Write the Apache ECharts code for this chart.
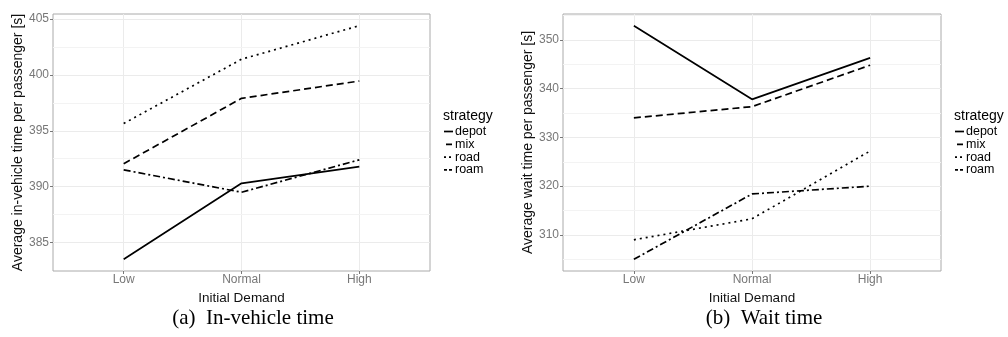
<!DOCTYPE html>
<html>
<head>
<meta charset="utf-8">
<script src="https://cdn.jsdelivr.net/npm/echarts@6/dist/echarts.min.js"></script>
<style>
html,body{margin:0;padding:0;background:#fff;}
#chart{width:1008px;height:337px;}
</style>
</head>
<body>
<div id="chart"></div>
<script>
// ---- data ----
const categories = ['Low', 'Normal', 'High'];
const strategies = ['depot', 'mix', 'road', 'roam'];

// (a) In-vehicle time
const ivtDepot = [383.5, 390.3, 391.8];
const ivtMix   = [392.05, 397.9, 399.45];
const ivtRoad  = [395.65, 401.4, 404.4];
const ivtRoam  = [391.5, 389.5, 392.4];
const ivtTicks = [385, 390, 395, 400, 405];
const ivtMinor = [387.5, 392.5, 397.5, 402.5];

// (b) Wait time
const waitDepot = [352.9, 337.8, 346.3];
const waitMix   = [334.0, 336.3, 344.8];
const waitRoad  = [309.0, 313.3, 327.2];
const waitRoam  = [305.0, 318.4, 320.0];
const waitTicks = [310, 320, 330, 340, 350];
const waitMinor = [305, 315, 325, 335, 345, 355];

// ---- styles ----
const FONT = '"Liberation Sans", Arial, sans-serif';
const SERIF = '"Liberation Serif", "Times New Roman", serif';
const dashOf = { depot: 'solid', mix: [7, 4], road: [2, 4], roam: [7, 3, 2, 3] };
const keyDashOf = { depot: null, mix: [0, 2, 6, 4], road: [2, 3], roam: [3, 2] };

function range(arrs) {
  const all = [].concat(...arrs);
  const lo = Math.min(...all), hi = Math.max(...all);
  const pad = (hi - lo) * 0.05;
  return [lo - pad, hi + pad];
}
const ivtRange = range([ivtDepot, ivtMix, ivtRoad, ivtRoam]);
const waitRange = range([waitDepot, waitMix, waitRoad, waitRoam]);

function lineSeries(name, vals, idx) {
  return {
    type: 'line', name: name, xAxisIndex: idx, yAxisIndex: idx,
    data: vals.map((v, i) => [i + 1, v]),
    symbol: 'none', z: 10, animation: false,
    lineStyle: { color: '#000', width: 1.7, type: dashOf[name] }
  };
}
function minorSeries(vals, idx) {
  return {
    type: 'line', name: '_minor' + idx, xAxisIndex: idx, yAxisIndex: idx,
    data: [], z: 1, silent: true, animation: false,
    markLine: {
      silent: true, z: 1, symbol: ['none', 'none'], animation: false,
      label: { show: false },
      emphasis: { disabled: true },
      lineStyle: { color: '#f3f3f3', width: 1, type: 'solid' },
      data: vals.map(v => ({ yAxis: v }))
    }
  };
}
function xAxis(idx) {
  return {
    type: 'value', gridIndex: idx, min: 0.4, max: 3.6, splitNumber: 3,
    axisLine: { show: false },
    axisTick: { show: true, length: 3, lineStyle: { color: '#777' }, customValues: [1, 2, 3] },
    axisLabel: { customValues: [1, 2, 3], margin: 3, fontSize: 12, color: '#777', fontFamily: FONT,
                 formatter: v => categories[Math.round(v) - 1] || '' },
    splitLine: { show: true, lineStyle: { color: '#ebebeb', width: 1 } },
    name: 'Initial Demand', nameLocation: 'middle', nameGap: 12,
    nameTextStyle: { fontSize: 13.5, color: '#111', fontFamily: FONT }
  };
}
function yAxis(idx, rng, ticks, name, gap) {
  return {
    type: 'value', gridIndex: idx, min: rng[0], max: rng[1],
    axisLine: { show: false },
    axisTick: { show: true, length: 3, lineStyle: { color: '#777' }, customValues: ticks },
    axisLabel: { customValues: ticks, margin: 4, fontSize: 12, color: '#777', fontFamily: FONT },
    splitLine: { show: true, lineStyle: { color: '#ebebeb', width: 1 } },
    name: name, nameLocation: 'middle', nameGap: gap,
    nameTextStyle: { fontSize: 14, color: '#111', fontFamily: FONT }
  };
}
function txt(x, y, text, font, align) {
  return { type: 'text', x: x, y: y, silent: true,
           style: { text: text, font: font, fill: '#000', align: align, verticalAlign: 'middle' } };
}
// legend keys drawn as graphic (line keys with dash patterns)
function legendGraphics(left) {
  const out = [txt(left - 1, 116, 'strategy', '14px ' + FONT, 'left')];
  strategies.forEach((s, i) => {
    const y = 131.5 + i * 12.8;
    const d = keyDashOf[s];
    out.push({ type: 'line', silent: true,
      shape: { x1: left, y1: y, x2: left + 9, y2: y },
      style: { stroke: '#000', lineWidth: 1.7, lineDash: d } });
    out.push(txt(left + 11, y, s, '12.5px ' + FONT, 'left'));
  });
  return out;
}

const chart = echarts.init(document.getElementById('chart'), null, { renderer: 'canvas' });
chart.setOption({
  animation: false,
  backgroundColor: '#fff',
  grid: [
    { left: 53, top: 14, width: 377, height: 257, show: true, borderColor: '#aaa', borderWidth: 1, backgroundColor: 'transparent' },
    { left: 563, top: 14, width: 378, height: 257, show: true, borderColor: '#aaa', borderWidth: 1, backgroundColor: 'transparent' }
  ],
  xAxis: [xAxis(0), xAxis(1)],
  yAxis: [
    yAxis(0, ivtRange, ivtTicks, 'Average in-vehicle time per passenger [s]', 27),
    yAxis(1, waitRange, waitTicks, 'Average wait time per passenger [s]', 26)
  ],
  graphic: [].concat(
    legendGraphics(444),
    legendGraphics(955),
    [
      txt(253, 318, '(a)  In-vehicle time', '21px ' + SERIF, 'center'),
      txt(764, 318, '(b)  Wait time', '21px ' + SERIF, 'center')
    ]
  ),
  series: [
    minorSeries(ivtMinor, 0),
    lineSeries('depot', ivtDepot, 0),
    lineSeries('mix', ivtMix, 0),
    lineSeries('road', ivtRoad, 0),
    lineSeries('roam', ivtRoam, 0),
    minorSeries(waitMinor, 1),
    lineSeries('depot', waitDepot, 1),
    lineSeries('mix', waitMix, 1),
    lineSeries('road', waitRoad, 1),
    lineSeries('roam', waitRoam, 1)
  ]
});
</script>
</body>
</html>
